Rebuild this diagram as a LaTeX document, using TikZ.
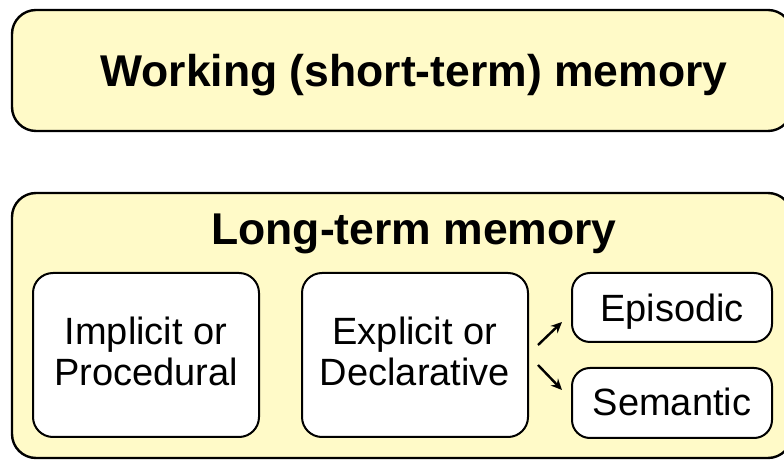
\documentclass[tikz,border=0pt]{standalone}
\usepackage{fontspec}
\setmainfont{Liberation Sans}
\usetikzlibrary{arrows.meta}
\definecolor{paleyellow}{RGB}{255,250,200}
\tikzset{
  x=1pt,y=1pt,
  outerbox/.style={draw=black, line width=2.4pt, fill=paleyellow, rounded corners=24pt},
  innerbox/.style={draw=black, line width=2pt, fill=white, rounded corners=20pt, align=center, font=\fontsize{38}{41}\selectfont, inner sep=0pt, text height=27.2pt, text depth=0pt},
  twoline/.style={text height=68.2pt, text depth=7pt},
  titletext/.style={font=\fontsize{44.5}{50}\selectfont\bfseries, inner sep=0pt, text height=31.9pt, text depth=0pt},
  arr/.style={-{Stealth[length=11pt,width=10pt]}, line width=2.4pt},
}
\begin{document}
\begin{tikzpicture}
\useasboundingbox (0,0) rectangle (784,460);
\clip (0,0) rectangle (784,460);
% working memory
\draw[outerbox] (12,329) rectangle (792,450);
\node[titletext] (wm) at (414,389) {Working (short-term) memory};
% long-term memory
\draw[outerbox] (12,2) rectangle (792,267);
\node[titletext] (ltm) at (414,231.5) {Long-term memory};
\node[innerbox, twoline, minimum width=226pt, minimum height=164pt] (impl) at (146,105) {Implicit or\\Procedural};
\node[innerbox, twoline, minimum width=226pt, minimum height=164pt] (expl) at (415,105) {Explicit or\\Declarative};
\node[innerbox, minimum width=200pt, minimum height=69pt, rounded corners=18pt] (epi) at (672,152.5) {Episodic};
\node[innerbox, text depth=3pt, minimum width=200pt, minimum height=70pt, rounded corners=18pt] (sem) at (672,57) {Semantic};
\coordinate (a1s) at (538,115);
\coordinate (a1e) at (562,138);
\coordinate (a2s) at (538,95);
\coordinate (a2e) at (562,70);
\draw[arr] (a1s) -- (a1e);
\draw[arr] (a2s) -- (a2e);
\end{tikzpicture}
\end{document}
